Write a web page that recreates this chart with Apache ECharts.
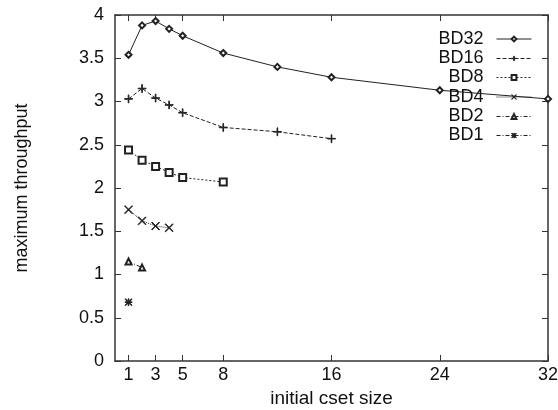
<!DOCTYPE html>
<html><head><meta charset="utf-8">
<script src="https://cdn.jsdelivr.net/npm/echarts@6/dist/echarts.min.js"></script>
<style>html,body{margin:0;padding:0;background:#fff}#c{width:558px;height:410px}</style>
</head><body><div id="c"></div>
<script>
var seriesNames = ['BD32','BD16','BD8','BD4','BD2','BD1'];
var xBD32 = [1,2,3,4,5,8,12,16,24,32];
var yBD32 = [3.54,3.88,3.93,3.84,3.76,3.56,3.40,3.28,3.13,3.03];
var xBD16 = [1,2,3,4,5,8,12,16];
var yBD16 = [3.03,3.15,3.04,2.96,2.87,2.70,2.65,2.57];
var xBD8 = [1,2,3,4,5,8];
var yBD8 = [2.44,2.32,2.25,2.18,2.12,2.07];
var xBD4 = [1,2,3,4];
var yBD4 = [1.75,1.62,1.56,1.54];
var xBD2 = [1,2];
var yBD2 = [1.15,1.08];
var xBD1 = [1];
var yBD1 = [0.68];
var xTicks = [1,3,5,8,16,24,32];

var xs = [xBD32,xBD16,xBD8,xBD4,xBD2,xBD1];
var ys = [yBD32,yBD16,yBD8,yBD4,yBD2,yBD1];
var PLUS = 'path://M4.6,0h0.8v4.6h4.6v0.8h-4.6v4.6h-0.8v-4.6h-4.6v-0.8h4.6z';
var XS = 'path://M0,0.6L0.6,0L10,9.4L9.4,10Z M9.4,0L10,0.6L0.6,10L0,9.4Z';
var AST = 'path://M4.5,0h1v10h-1z M0,4.5h10v1h-10z M0.7,0L10,9.3L9.3,10L0,0.7Z M9.3,0L10,0.7L0.7,10L0,9.3Z';
var symbols = ['emptyDiamond', PLUS, 'emptyRect', XS, 'emptyTriangle', AST];
var symSizes = [6, 8, 7, 8, 6, 7];
var lineTypes = ['solid', [4,2], [2,2], [1,1], [4,2,1,2], [4,2,1,2]];
var FONT = 'Liberation Sans';
function pairs(a,b){ return a.map(function(v,i){ return [v,b[i]]; }); }

var series = seriesNames.map(function(n,i){
  return {
    name: n, type: 'line', data: pairs(xs[i], ys[i]),
    symbol: symbols[i], symbolSize: symSizes[i], showAllSymbol: true,
    lineStyle: {color:'#222', width: 1, type: lineTypes[i]},
    itemStyle: {color:'#222', borderColor:'#222', borderWidth: 1},
    emphasis: {disabled: true},
    xAxisIndex: 0, yAxisIndex: 0
  };
});
// empty helper series so the mirrored top/right axes are drawn
series.push({type: 'line', data: [], xAxisIndex: 1, yAxisIndex: 1, silent: true});

var legendTops = [25, 44.5, 63.5, 83, 102.5, 121.5];
var legends = seriesNames.map(function(n,i){
  return {
    data: [n], right: 21, top: legendTops[i], align: 'right',
    itemWidth: 35, itemHeight: 6, itemGap: 8, selectedMode: false,
    lineStyle: {width: 1}, itemStyle: {borderWidth: 1},
    textStyle: {fontFamily: FONT, fontSize: 18, color: '#111', padding: [0,8,0,0]}
  };
});

function axLine(){ return {show: true, onZero: false, lineStyle: {color: '#333', width: 1.5}}; }
var chart = echarts.init(document.getElementById('c'), null, {renderer: 'canvas'});
chart.setOption({
  animation: false,
  backgroundColor: '#fff',
  grid: {left: 115, right: 10, top: 15, bottom: 49, containLabel: false, outerBoundsMode: 'none'},
  legend: legends,
  xAxis: [{
    type: 'value', min: 0, max: 32, position: 'bottom',
    name: 'initial cset size', nameLocation: 'middle', nameGap: 28,
    nameTextStyle: {fontFamily: FONT, fontSize: 19, color: '#111'},
    axisLine: axLine(),
    axisTick: {show: true, inside: true, length: 6, customValues: xTicks, lineStyle: {color:'#333'}},
    axisLabel: {show: true, customValues: xTicks, margin: 5, fontFamily: FONT, fontSize: 18, color: '#111'},
    splitLine: {show: false}
  },{
    type: 'value', min: 0, max: 32, position: 'top',
    axisLine: axLine(),
    axisTick: {show: true, inside: true, length: 6, customValues: xTicks, lineStyle: {color:'#333'}},
    axisLabel: {show: false}, splitLine: {show: false}
  }],
  yAxis: [{
    type: 'value', min: 0, max: 4, interval: 0.5, position: 'left',
    name: 'maximum throughput', nameLocation: 'middle', nameGap: 84, nameRotate: 90,
    nameTextStyle: {fontFamily: FONT, fontSize: 18, color: '#111'},
    axisLine: axLine(),
    axisTick: {show: true, inside: true, length: 6, lineStyle: {color:'#333'}},
    axisLabel: {show: true, margin: 11, fontFamily: FONT, fontSize: 18, color: '#111'},
    splitLine: {show: false}
  },{
    type: 'value', min: 0, max: 4, interval: 0.5, position: 'right',
    axisLine: axLine(),
    axisTick: {show: true, inside: true, length: 6, lineStyle: {color:'#333'}},
    axisLabel: {show: false}, splitLine: {show: false}
  }],
  series: series
});
</script></body></html>
